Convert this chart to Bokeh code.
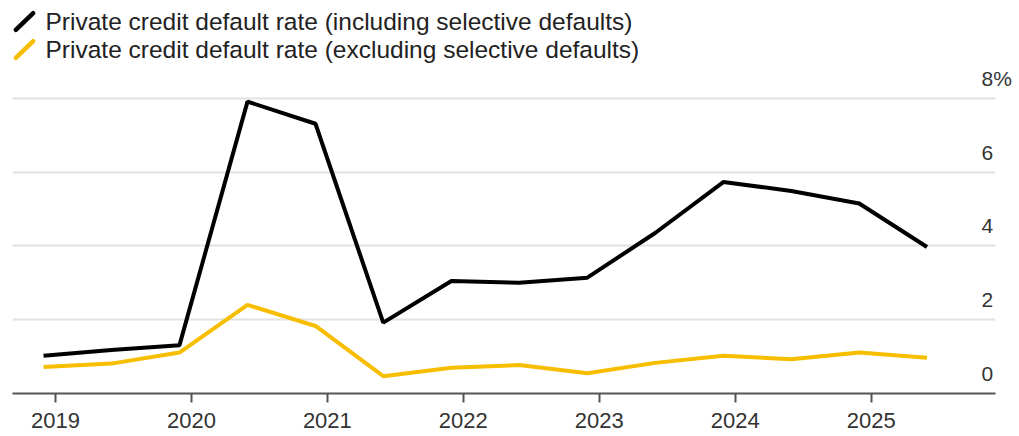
import pandas as pd
from bokeh.plotting import figure
from bokeh.models import Range1d, LinearAxis, FixedTicker, ColumnDataSource
from bokeh.core.properties import value
from bokeh.layouts import column
from bokeh.embed import file_html
from bokeh.resources import INLINE

# ---- data ----
period_end = ["2018-11-30", "2019-05-31", "2019-11-30", "2020-05-31", "2020-11-30",
              "2021-05-31", "2021-11-30", "2022-05-31", "2022-11-30", "2023-05-31",
              "2023-11-30", "2024-05-31", "2024-11-30", "2025-05-31"]
incl_selective = [1.02, 1.18, 1.31, 7.91, 7.31, 1.92, 3.05, 3.00, 3.14, 4.35, 5.73, 5.49, 5.15, 3.97]
excl_selective = [0.72, 0.81, 1.11, 2.40, 1.83, 0.47, 0.70, 0.77, 0.55, 0.83, 1.02, 0.93, 1.11, 0.97]
series_labels = ["Private credit default rate (including selective defaults)",
                 "Private credit default rate (excluding selective defaults)"]
series_colors = ["#000000", "#F7BE00"]
x_ticks = [2019, 2020, 2021, 2022, 2023, 2024, 2025]
x_tick_labels = ["2019", "2020", "2021", "2022", "2023", "2024", "2025"]
y_ticks = [0, 2, 4, 6, 8]
y_tick_labels = ["0", "2", "4", "6", "8%"]

FONT = "Liberation Sans"
LEFT = 12
FRAME_W = 983

# ---- legend strip ----
LEG_H = 66
ROW_PX = 28
FIRST_ROW_PX = 21
leg_src = ColumnDataSource(dict(x=[0] * len(series_labels),
                                y=list(range(len(series_labels))),
                                label=series_labels, color=series_colors))
leg = figure(frame_width=FRAME_W, frame_height=LEG_H,
             x_range=Range1d(-12, FRAME_W - 12),
             y_range=Range1d((LEG_H - FIRST_ROW_PX) / ROW_PX, -FIRST_ROW_PX / ROW_PX),
             output_backend="svg", toolbar_location=None,
             x_axis_location=None, y_axis_location=None,
             min_border_left=LEFT, min_border_right=0, min_border_top=0, min_border_bottom=0)
leg.outline_line_color = None
leg.xgrid.visible = False
leg.ygrid.visible = False
leg.scatter("x", "y", source=leg_src, marker="dash", size=24, angle=0.76,
            line_color="color", line_width=4.5, line_cap="round")
leg.text("x", "y", text="label", source=leg_src, x_offset=21,
         text_baseline="middle", text_align="left",
         text_font=value(FONT), text_font_size="24.5px", text_color="#222222")

# ---- main chart ----
d = pd.to_datetime(pd.Series(period_end))
days = d.dt.is_leap_year.map({True: 366, False: 365})
x_dec = list(d.dt.year + (d.dt.dayofyear - 1) / days)
source = ColumnDataSource(dict(x=x_dec, incl=incl_selective, excl=excl_selective))

FRAME_H = 327
PX_PER_UNIT = 36.9
Y_END = FRAME_H / PX_PER_UNIT
X_START = 2018.684
X_END = X_START + FRAME_W / 135.95
LABEL_SHIFT = 20 / PX_PER_UNIT  # value labels sit ~20px above their gridline

p = figure(frame_width=FRAME_W, frame_height=FRAME_H,
           x_range=Range1d(X_START, X_END), y_range=Range1d(0, Y_END),
           output_backend="svg", toolbar_location=None,
           y_axis_location=None,
           min_border_left=LEFT, min_border_right=0, min_border_top=0, min_border_bottom=43)
p.outline_line_color = None
p.background_fill_color = "white"
p.border_fill_color = "white"

p.xgrid.grid_line_color = None
p.ygrid.ticker = FixedTicker(ticks=y_ticks[1:])
p.ygrid.grid_line_color = "#e2e2e2"
p.ygrid.grid_line_width = 2

xa = p.xaxis[0]
xa.ticker = FixedTicker(ticks=x_ticks)
xa.major_label_overrides = {t: l for t, l in zip(x_ticks, x_tick_labels)}
xa.axis_line_color = "#555555"
xa.axis_line_width = 2
xa.major_tick_line_color = "#555555"
xa.major_tick_line_width = 2
xa.major_tick_out = 9
xa.major_tick_in = 0
xa.minor_tick_out = 0
xa.minor_tick_in = 0
xa.major_label_standoff = 10
xa.major_label_text_font = FONT
xa.major_label_text_font_size = "22px"
xa.major_label_text_color = "#333333"

p.extra_y_ranges = {"labels": Range1d(0 - LABEL_SHIFT, Y_END - LABEL_SHIFT)}
ya = LinearAxis(y_range_name="labels", ticker=FixedTicker(ticks=y_ticks),
                major_label_overrides={t: l for t, l in zip(y_ticks, y_tick_labels)})
ya.axis_line_color = None
ya.major_tick_line_color = None
ya.minor_tick_line_color = None
ya.major_tick_out = 0
ya.major_tick_in = 0
ya.minor_tick_out = 0
ya.minor_tick_in = 0
ya.major_label_standoff = -14
ya.major_label_text_font = FONT
ya.major_label_text_font_size = "21px"
ya.major_label_text_color = "#333333"
p.add_layout(ya, "right")

p.line("x", "excl", source=source, line_color=series_colors[1], line_width=4)
p.line("x", "incl", source=source, line_color=series_colors[0], line_width=4)

layout = column(leg, p, spacing=0)
open("out.html", "w").write(file_html(layout, INLINE))
